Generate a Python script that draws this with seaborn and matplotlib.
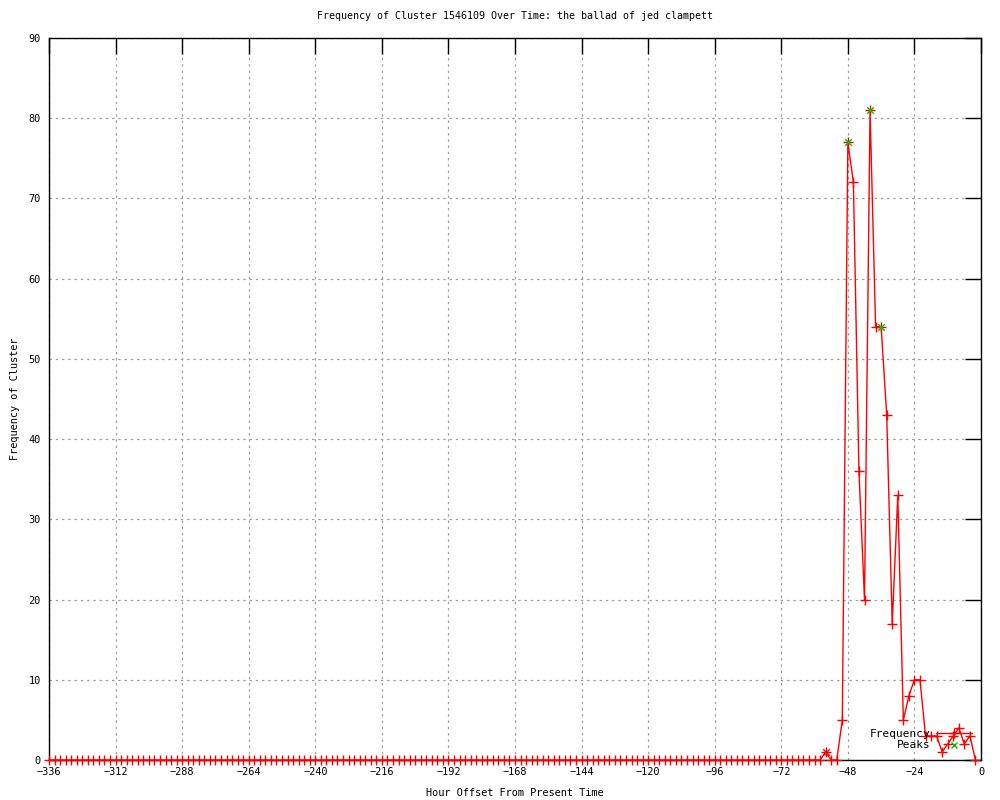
import matplotlib
matplotlib.use("Agg")
import matplotlib.pyplot as plt
from matplotlib.lines import Line2D
import numpy as np
import pandas as pd
import seaborn as sns

# ---- data ----
hours_zero = list(range(-336, -57, 2))          # flat region, all zero
values_zero = [0] * len(hours_zero)
hours_active = [-56, -54, -52, -50, -48, -46, -44, -42, -40, -38, -36, -34, -32,
                -30, -28, -26, -24, -22, -20, -18, -16, -14, -12, -10, -8, -6, -4, -2]
values_active = [1, 0, 0, 5, 77, 72, 36, 20, 81, 54, 54, 43, 17,
                 33, 5, 8, 10, 10, 3, 3, 3, 1, 2, 3, 4, 2, 3, 0]
peak_hours = [-48, -40, -36]
peak_values = [77, 81, 54]
minor_peak_hours = [-56]
minor_peak_values = [1]

x_ticks = list(range(-336, 1, 24))
y_ticks = list(range(0, 91, 10))

title = "Frequency of Cluster 1546109 Over Time: the ballad of jed clampett"
xlabel = "Hour Offset From Present Time"
ylabel = "Frequency of Cluster"

df = pd.DataFrame({"hour": hours_zero + hours_active,
                   "freq": values_zero + values_active})
peaks = pd.DataFrame({"hour": peak_hours, "freq": peak_values})
minor = pd.DataFrame({"hour": minor_peak_hours, "freq": minor_peak_values})

sns.set_style("white")
plt.rcParams['font.family'] = ['DejaVu Sans Mono', 'DejaVu Sans']
plt.rcParams['text.color'] = 'black'
plt.rcParams['axes.labelcolor'] = 'black'
plt.rcParams['xtick.color'] = 'black'
plt.rcParams['ytick.color'] = 'black'
FS = 7.4

fig = plt.figure(figsize=(10, 8), dpi=100)
ax = fig.add_axes([0.049, 0.05, 0.932, 0.9025])

sns.lineplot(data=df, x="hour", y="freq", ax=ax, color="red", linewidth=1.0,
             marker="+", markersize=6.5, markeredgewidth=1.0, markeredgecolor="red",
             clip_on=False, zorder=3)
sns.scatterplot(data=minor, x="hour", y="freq", ax=ax, color="red", marker="x",
                s=22, linewidth=1.0, zorder=4)
sns.scatterplot(data=peaks, x="hour", y="freq", ax=ax, color="#00c000", marker="x",
                s=22, linewidth=1.0, zorder=4)

ax.set_xlim(-336, 0)
ax.set_ylim(0, 90)
ax.set_xticks(x_ticks)
ax.set_yticks(y_ticks)
ax.set_xticklabels([str(t).replace("-", "\u2212") if t != 0 else "0" for t in x_ticks])
ax.tick_params(axis="both", which="major", direction="in", length=11.5, width=1,
               color="black", labelcolor="black", labelsize=FS, top=True, right=True, pad=5)
ax.tick_params(axis="y", pad=6)

ax.grid(True, color="#a0a0a0", linestyle=(0, (2, 3)), linewidth=0.9)
for s in ax.spines.values():
    s.set_color("black")
    s.set_linewidth(1.0)
    s.set_visible(True)

ax.set_title(title, fontsize=7.2, pad=14, color="black")
ax.set_xlabel(xlabel, fontsize=FS, labelpad=8, color="black")
ax.set_ylabel(ylabel, fontsize=FS, labelpad=6, color="black")

handles = [Line2D([0], [0], color="red", linewidth=1.0, marker="+", markersize=6.5,
                  markeredgewidth=1.0),
           Line2D([0], [0], color="#00c000", linestyle="none", marker="x",
                  markersize=4.5, markeredgewidth=1.0)]
leg = ax.legend(handles, ["Frequency", "Peaks"], loc="lower right",
                bbox_to_anchor=(0.972, 0.062), bbox_transform=fig.transFigure,
                frameon=False, markerfirst=False, fontsize=FS + 0.6,
                handlelength=3.2, handletextpad=0.55, labelspacing=0.15,
                borderpad=0, borderaxespad=0)
for t in leg.get_texts():
    t.set_ha("right")
    t.set_color("black")

fig.savefig("out.png", dpi=100, facecolor="white")
